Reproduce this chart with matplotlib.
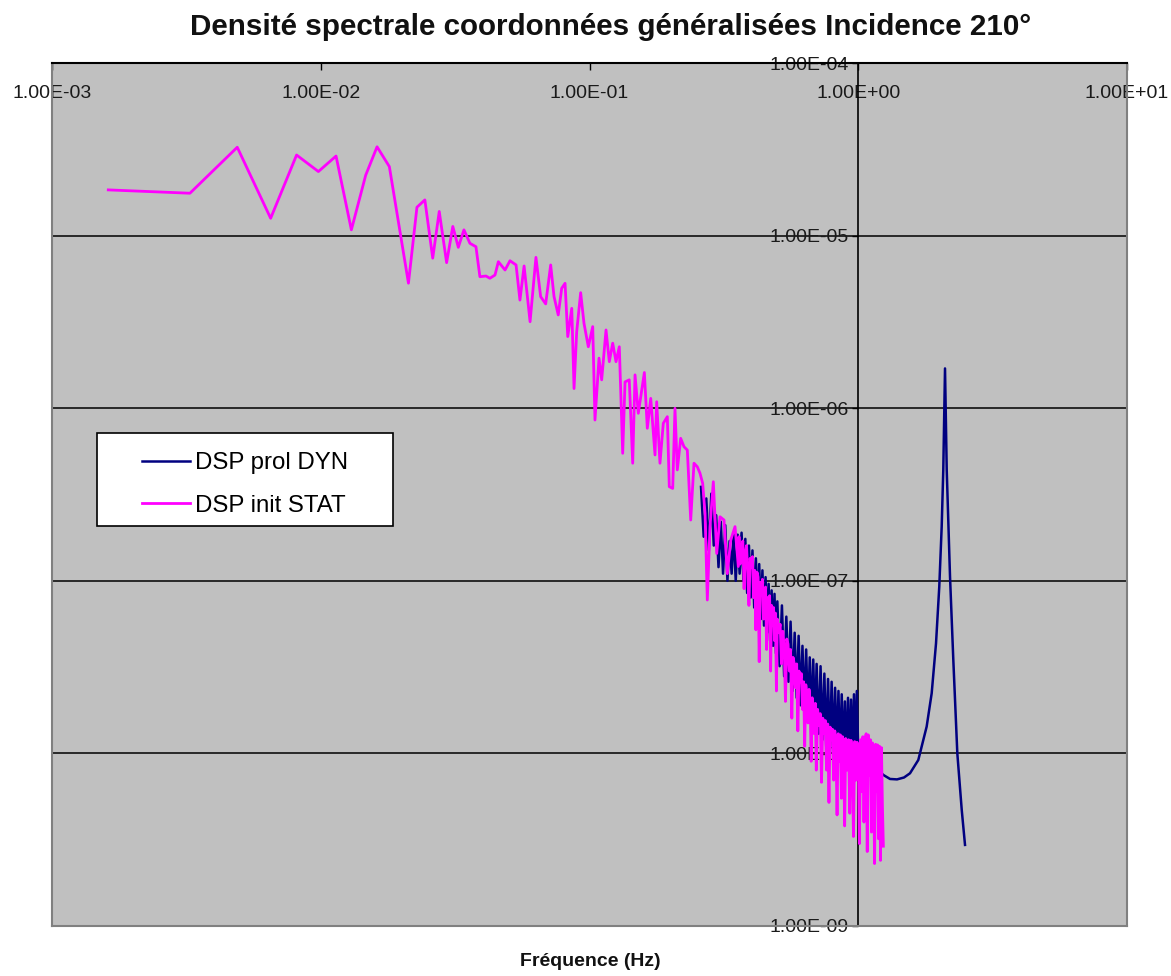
import matplotlib
matplotlib.use("Agg")
import matplotlib.pyplot as plt
from matplotlib.patches import Rectangle
from matplotlib.ticker import FixedLocator, FuncFormatter, NullLocator

plt.rcParams['font.family'] = ['Liberation Sans', 'DejaVu Sans']

title = "Densité spectrale coordonnées généralisées Incidence 210°"
x_label = "Fréquence (Hz)"
series_names = ["DSP prol DYN", "DSP init STAT"]
x_ticks = [1e-3, 1e-2, 1e-1, 1e0, 1e1]
y_ticks = [1e-9, 1e-8, 1e-7, 1e-6, 1e-5, 1e-4]

# Initial static spectral density (Hz, value)
freq_stat = [
    0.00162, 0.00326, 0.00489, 0.00651, 0.00813, 0.0098, 0.0114, 0.0130, 0.0147, 0.0162,
    0.0180, 0.0212, 0.0228, 0.0244, 0.0261, 0.0276, 0.0294, 0.0310, 0.0325, 0.0341,
    0.0359, 0.0378, 0.0391, 0.0412, 0.0426, 0.0445, 0.0458, 0.0485, 0.0506, 0.0533,
    0.0551, 0.0571, 0.0601, 0.0632, 0.0658, 0.0687, 0.0717, 0.0738, 0.0765, 0.0788,
    0.0811, 0.0830, 0.0859, 0.0876, 0.0896, 0.0927, 0.0954, 0.0990, 0.1028, 0.1048,
    0.1085, 0.1110, 0.1152, 0.1185, 0.1220, 0.1255, 0.1291, 0.1329, 0.1356, 0.1406,
    0.1448, 0.1477, 0.1519, 0.1600, 0.1641, 0.1690, 0.1753, 0.1778, 0.1829, 0.1882,
    0.1948, 0.1981, 0.2040, 0.2080, 0.2122, 0.2184, 0.2247, 0.2312, 0.2380, 0.2448,
    0.2518, 0.2577, 0.2637, 0.2691, 0.2744, 0.2808, 0.2889, 0.2974, 0.3059, 0.3166,
    0.3257, 0.3353, 0.3479, 0.3579,
    0.360, 0.364, 0.368, 0.372, 0.376, 0.380, 0.384, 0.388, 0.392, 0.396,
    0.400, 0.404, 0.408, 0.412, 0.416, 0.420, 0.424, 0.428, 0.432, 0.436,
    0.440, 0.444, 0.448, 0.452, 0.456, 0.460, 0.464, 0.468, 0.472, 0.476,
    0.480, 0.484, 0.488, 0.492, 0.496, 0.500,
    0.506, 0.512, 0.518, 0.524, 0.530, 0.536, 0.542, 0.548, 0.554, 0.560,
    0.566, 0.572, 0.578, 0.584, 0.590, 0.596, 0.602, 0.608, 0.614, 0.620,
    0.626, 0.632, 0.638, 0.644, 0.650, 0.656, 0.662, 0.668, 0.674, 0.680,
    0.686, 0.692, 0.698,
    0.706, 0.714, 0.722, 0.730, 0.738, 0.746, 0.754, 0.762, 0.770, 0.778,
    0.786, 0.794, 0.802, 0.810, 0.818, 0.826, 0.834, 0.842, 0.850, 0.858,
    0.866, 0.874, 0.882, 0.890, 0.898,
    0.91, 0.92, 0.93, 0.94, 0.95, 0.96, 0.97, 0.98, 0.99, 1.00,
    1.01, 1.02, 1.03, 1.04, 1.05, 1.06, 1.07, 1.08, 1.09, 1.10,
    1.11, 1.12, 1.13, 1.14, 1.15, 1.16, 1.17, 1.18, 1.19, 1.20,
    1.21, 1.22, 1.23, 1.24,
]
dsp_stat = [
    1.84e-5, 1.76e-5, 3.25e-5, 1.26e-5, 2.93e-5, 2.35e-5, 2.89e-5, 1.08e-5, 2.24e-5, 3.27e-5,
    2.51e-5, 5.30e-6, 1.46e-5, 1.61e-5, 7.40e-6, 1.38e-5, 6.97e-6, 1.13e-5, 8.55e-6, 1.08e-5,
    9.02e-6, 8.62e-6, 5.78e-6, 5.83e-6, 5.66e-6, 5.91e-6, 7.06e-6, 6.32e-6, 7.15e-6, 6.76e-6,
    4.23e-6, 6.67e-6, 3.17e-6, 7.48e-6, 4.43e-6, 4.02e-6, 6.76e-6, 4.43e-6, 3.47e-6, 4.95e-6,
    5.29e-6, 2.60e-6, 3.79e-6, 1.30e-6, 2.77e-6, 4.67e-6, 3.10e-6, 2.27e-6, 2.97e-6, 8.54e-7,
    1.95e-6, 1.46e-6, 2.84e-6, 1.86e-6, 2.38e-6, 1.86e-6, 2.27e-6, 5.48e-7, 1.42e-6, 1.46e-6,
    4.80e-7, 1.56e-6, 9.34e-7, 1.61e-6, 7.65e-7, 1.14e-6, 5.36e-7, 1.09e-6, 4.80e-7, 8.18e-7,
    8.93e-7, 3.51e-7, 3.43e-7, 9.99e-7, 4.39e-7, 6.69e-7, 5.98e-7, 5.72e-7, 2.25e-7, 4.80e-7,
    4.58e-7, 4.20e-7, 3.67e-7, 2.46e-7, 7.74e-8, 2.06e-7, 3.75e-7, 1.44e-7, 2.35e-7, 2.25e-7,
    1.10e-7, 1.72e-7, 2.06e-7, 1.21e-7,
    1.8e-7, 1.25e-7, 1.55e-7, 1.7e-7, 9.0e-8, 1.45e-7, 1.6e-7, 1.1e-7, 7.2e-8, 1.35e-7,
    1.2e-7, 1.38e-7, 8.0e-8, 1.15e-7, 5.2e-8, 1.12e-7, 1.05e-7, 3.4e-8, 9.8e-8, 8.5e-8,
    1.02e-7, 6.0e-8, 8.8e-8, 9.2e-8, 4.0e-8, 8.0e-8, 7.0e-8, 8.2e-8, 3.0e-8, 7.2e-8,
    5.5e-8, 7.0e-8, 4.5e-8, 6.5e-8, 2.3e-8, 6.0e-8,
    5.0e-8, 5.6e-8, 3.3e-8, 5.1e-8, 4.2e-8, 2.0e-8, 4.6e-8, 4.3e-8, 3.0e-8, 4.0e-8,
    1.6e-8, 3.6e-8, 3.3e-8, 2.4e-8, 3.3e-8, 1.35e-8, 3.0e-8, 2.6e-8, 2.9e-8, 1.8e-8,
    2.6e-8, 1.1e-8, 2.5e-8, 2.2e-8, 1.5e-8, 2.35e-8, 2.0e-8, 9.0e-9, 2.1e-8, 1.75e-8,
    1.3e-8, 1.95e-8, 8.0e-9,
    1.8e-8, 1.45e-8, 1.7e-8, 6.8e-9, 1.6e-8, 1.3e-8, 1.55e-8, 8.0e-9, 1.48e-8, 5.2e-9,
    1.42e-8, 1.2e-8, 1.38e-8, 7.0e-9, 1.35e-8, 1.1e-8, 4.4e-9, 1.3e-8, 9.0e-9, 1.28e-8,
    5.5e-9, 1.25e-8, 1.05e-8, 3.8e-9, 1.22e-8,
    8.0e-9, 1.2e-8, 4.5e-9, 1.19e-8, 9.5e-9, 3.3e-9, 1.17e-8, 7.0e-9, 1.16e-8, 1.0e-8,
    3.0e-9, 1.2e-8, 6.0e-9, 1.25e-8, 4.0e-9, 1.2e-8, 1.3e-8, 2.7e-9, 1.28e-8, 7.5e-9,
    1.2e-8, 3.5e-9, 1.15e-8, 9.0e-9, 2.3e-9, 1.13e-8, 6.0e-9, 1.12e-8, 3.2e-9, 1.1e-8,
    2.4e-9, 1.08e-8, 5.0e-9, 2.9e-9,
]

# Extended dynamic spectral density (Hz, value)
freq_dyn = [
    0.260, 0.266, 0.272, 0.278, 0.284, 0.290, 0.296, 0.302, 0.308, 0.314,
    0.320, 0.326, 0.332, 0.338, 0.344, 0.350, 0.356, 0.362, 0.368, 0.374,
    0.380, 0.386, 0.392, 0.398, 0.404, 0.410, 0.416, 0.422, 0.428, 0.434,
    0.440, 0.446, 0.452, 0.458, 0.464, 0.470, 0.476, 0.482, 0.488, 0.494,
    0.500,
    0.51, 0.52, 0.53, 0.54, 0.55, 0.56, 0.57, 0.58, 0.59, 0.60,
    0.61, 0.62, 0.63, 0.64, 0.65, 0.66, 0.67, 0.68, 0.69, 0.70,
    0.712, 0.724, 0.736, 0.748, 0.760, 0.772, 0.784, 0.796, 0.808, 0.820,
    0.832, 0.844, 0.856, 0.868, 0.880, 0.892, 0.904, 0.916, 0.928, 0.940,
    0.952, 0.964, 0.976, 0.988, 1.000,
    1.060, 1.106, 1.165, 1.240, 1.313, 1.394, 1.480, 1.558, 1.673, 1.797,
    1.876, 1.947, 2.002, 2.044, 2.072, 2.103, 2.134, 2.195, 2.258, 2.337,
    2.427, 2.496,
]
dsp_dyn = [
    3.5e-7, 1.8e-7, 3.0e-7, 1.5e-7, 3.2e-7, 1.6e-7, 2.4e-7, 1.2e-7, 2.2e-7, 1.1e-7,
    2.1e-7, 1.0e-7, 1.7e-7, 1.1e-7, 1.9e-7, 1.0e-7, 1.85e-7, 1.1e-7, 1.9e-7, 1.0e-7,
    1.75e-7, 8.5e-8, 1.6e-7, 8.0e-8, 1.5e-7, 7.0e-8, 1.35e-7, 6.5e-8, 1.25e-7, 6.0e-8,
    1.15e-7, 5.5e-8, 1.05e-7, 5.0e-8, 9.6e-8, 4.5e-8, 8.8e-8, 4.2e-8, 8.4e-8, 3.8e-8,
    7.6e-8,
    3.2e-8, 7.2e-8, 2.8e-8, 6.2e-8, 2.6e-8, 5.8e-8, 2.3e-8, 5.0e-8, 2.1e-8, 4.8e-8,
    1.9e-8, 4.2e-8, 1.8e-8, 4.0e-8, 1.6e-8, 3.6e-8, 1.5e-8, 3.5e-8, 1.4e-8, 3.3e-8,
    1.3e-8, 3.2e-8, 1.2e-8, 2.9e-8, 1.1e-8, 2.7e-8, 1.0e-8, 2.6e-8, 1.0e-8, 2.4e-8,
    9.5e-9, 2.3e-8, 9.0e-9, 2.2e-8, 9.0e-9, 2.0e-8, 8.5e-9, 2.1e-8, 8.5e-9, 2.05e-8,
    8.5e-9, 2.2e-8, 8.5e-9, 2.3e-8, 1.0e-8,
    1.02e-8, 9.16e-9, 8.23e-9, 7.50e-9, 7.11e-9, 7.07e-9, 7.25e-9, 7.67e-9, 9.16e-9, 1.43e-8,
    2.23e-8, 4.34e-8, 9.24e-8, 2.06e-7, 4.39e-7, 1.70e-6, 4.39e-7, 1.06e-7, 3.48e-8, 1.00e-8,
    4.70e-9, 2.95e-9,
]

W, H = 1171, 976
fig = plt.figure(figsize=(W / 100, H / 100), dpi=100)
fig.patch.set_facecolor('white')
ax = fig.add_axes([52 / W, 1 - 926 / H, (1127 - 52) / W, (926 - 63) / H])
ax.set_facecolor('#c0c0c0')
ax.set_xscale('log')
ax.set_yscale('log')
ax.set_xlim(x_ticks[0], x_ticks[-1])
ax.set_ylim(y_ticks[0], y_ticks[-1])

ax.plot(freq_dyn, dsp_dyn, color='#000080', lw=1.8, label=series_names[0], zorder=3)
ax.plot(freq_stat, dsp_stat, color='#ff00ff', lw=2.0, label=series_names[1], zorder=4)

sci = FuncFormatter(lambda v, p: f"{v:.2E}")

# vertical axis crosses at 1 Hz
ax.spines['left'].set_position(('data', 1.0))
ax.spines['left'].set_color('black')
ax.spines['left'].set_linewidth(1.2)
ax.yaxis.set_major_locator(FixedLocator(y_ticks))
ax.yaxis.set_minor_locator(NullLocator())
ax.yaxis.set_major_formatter(sci)
ax.tick_params(axis='y', which='major', direction='out', length=4, width=1,
               pad=3, labelsize=14, labelcolor='#1a1a1a', color='black')
ax.yaxis.grid(True, color='black', lw=1.1)
ax.set_axisbelow(True)

# horizontal axis along the top edge, labels inside the plot
ax.xaxis.set_ticks_position('top')
ax.xaxis.set_major_locator(FixedLocator(x_ticks))
ax.xaxis.set_minor_locator(NullLocator())
ax.xaxis.set_major_formatter(sci)
ax.tick_params(axis='x', which='major', direction='in', length=5, width=1,
               labeltop=True, labelbottom=False, pad=-28, labelsize=14,
               labelcolor='#1a1a1a', color='black')

ax.spines['top'].set_color('black')
ax.spines['top'].set_linewidth(1.5)
ax.spines['top'].set_zorder(5)
for side in ('bottom', 'right'):
    ax.spines[side].set_color('#808080')
    ax.spines[side].set_linewidth(1.5)
ax.plot([0, 0], [0, 1], transform=ax.transAxes, color='#808080', lw=1.5,
        clip_on=False, zorder=5)

# legend box
ax.add_patch(Rectangle((97 / W, 1 - 526 / H), 296 / W, 93 / H, transform=fig.transFigure,
                       facecolor='white', edgecolor='black', lw=1.2, zorder=6, clip_on=False))
leg = ax.legend(loc='upper left', bbox_to_anchor=(142 / W, 1 - 452 / H),
                bbox_transform=fig.transFigure, frameon=False, fontsize=17.3,
                borderpad=0, borderaxespad=0, handlelength=2.0, handletextpad=0.2,
                labelspacing=0.86)
leg.set_zorder(7)

fig.text(611 / W, 1 - 27 / H, title, ha='center', va='center', fontsize=21.3,
         fontweight='bold', color='#111111')
fig.text(590 / W, 1 - 962 / H, x_label, ha='center', va='center', fontsize=14,
         fontweight='bold', color='#111111')

fig.savefig('out.png', dpi=100, facecolor='white')
